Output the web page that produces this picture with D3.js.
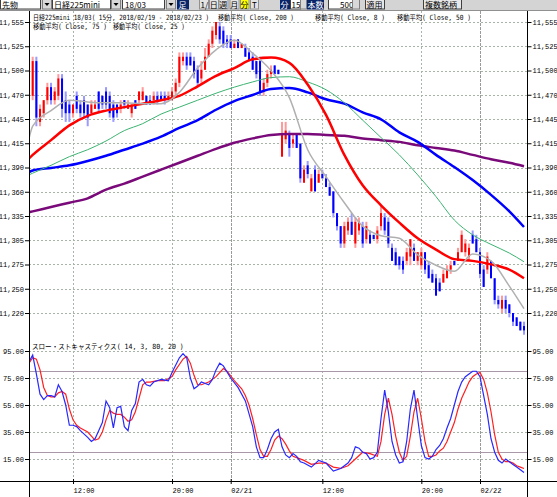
<!DOCTYPE html>
<html>
<head>
<meta charset="utf-8">
<script src="https://cdn.jsdelivr.net/npm/d3@7"></script>
<style>
  html, body { margin: 0; padding: 0; background: #fff; }
  svg { display: block; }
  .num { font-family: "Liberation Mono", "DejaVu Sans Mono", monospace; font-size: 7px; fill: #000; }
  .jp { font-family: "DejaVu Sans Mono", "Noto Sans CJK JP", monospace; font-size: 7.2px; fill: #000; }
  .tb { font-family: "Noto Sans CJK JP", sans-serif; font-size: 8px; }
</style>
</head>
<body>
<div id="chart"></div>
<script>
// ---- data ----
const priceLabels = ["11,555","11,525","11,500","11,470","11,445","11,415","11,390","11,360","11,335","11,305","11,275","11,250","11,220"];
const stochTicks = [95, 75, 55, 35, 15];
const stochLevels = [80, 20];
const timeTickIdx = [11, 38, 54, 79, 106, 122];
const timeLabels = ["12:00", "20:00", "02/21", "12:00", "20:00", "02/22"];
const dateTickIdx = [54, 122];

// 15-minute bars: [open, high, low, close]
const ohlc = [
  [11470,11515,11465,11510],[11510,11515,11435,11445],[11440,11460,11435,11455],[11450,11465,11445,11465],
  [11465,11485,11460,11480],[11480,11485,11460,11465],[11465,11480,11460,11475],[11470,11495,11465,11490],
  [11490,11495,11445,11455],[11465,11475,11440,11450],[11460,11465,11440,11450],[11450,11460,11445,11460],
  [11470,11475,11450,11455],[11460,11465,11445,11450],[11465,11470,11445,11450],[11460,11460,11435,11445],
  [11450,11465,11450,11460],[11455,11465,11455,11460],[11475,11475,11450,11455],[11470,11470,11455,11460],
  [11475,11480,11455,11460],[11470,11475,11445,11450],[11460,11465,11440,11445],[11460,11460,11445,11450],
  [11455,11465,11450,11460],[11465,11465,11455,11460],[11455,11465,11455,11460],[11450,11460,11445,11460],
  [11465,11465,11455,11455],[11465,11475,11460,11475],[11465,11480,11465,11475],[11470,11470,11460,11460],
  [11465,11470,11460,11460],[11465,11475,11460,11470],[11470,11475,11460,11465],[11470,11475,11465,11465],
  [11470,11475,11460,11465],[11465,11475,11465,11470],[11465,11480,11465,11475],[11475,11490,11470,11485],
  [11485,11520,11480,11515],[11510,11520,11505,11515],[11515,11520,11500,11505],[11515,11520,11505,11505],
  [11510,11515,11490,11495],[11500,11505,11480,11485],[11490,11510,11485,11500],[11500,11525,11500,11515],
  [11515,11535,11515,11530],[11530,11550,11525,11545],[11540,11555,11535,11555],[11550,11555,11530,11535],
  [11545,11550,11525,11530],[11535,11540,11525,11530],[11535,11540,11525,11525],[11525,11535,11525,11530],
  [11535,11535,11525,11525],[11525,11530,11525,11530],[11525,11530,11515,11515],[11520,11525,11510,11510],
  [11515,11520,11500,11500],[11510,11510,11490,11495],[11510,11515,11470,11475],[11475,11490,11470,11485],
  [11485,11500,11480,11495],[11495,11505,11490,11500],[11505,11505,11495,11495],[11500,11500,11495,11495],
  [11400,11440,11400,11425],[11420,11440,11415,11430],[11425,11430,11400,11410],[11415,11425,11410,11420],
  [11425,11425,11410,11410],[11415,11415,11370,11375],[11370,11390,11370,11385],[11390,11395,11375,11380],
  [11360,11380,11360,11375],[11385,11390,11360,11360],[11370,11385,11370,11380],[11380,11385,11375,11375],
  [11375,11380,11365,11365],[11365,11370,11355,11355],[11360,11360,11330,11335],[11335,11335,11315,11320],
  [11320,11320,11295,11300],[11300,11325,11295,11320],[11315,11330,11310,11325],[11325,11335,11310,11310],
  [11300,11330,11295,11325],[11315,11330,11310,11325],[11320,11325,11295,11300],[11305,11325,11300,11320],
  [11310,11315,11300,11300],[11310,11310,11305,11305],[11305,11320,11300,11315],[11320,11345,11315,11335],
  [11330,11335,11310,11315],[11325,11330,11295,11300],[11295,11300,11280,11280],[11290,11295,11275,11275],
  [11285,11285,11270,11275],[11280,11285,11265,11270],[11280,11295,11275,11290],[11285,11305,11275,11305],
  [11295,11300,11280,11280],[11280,11290,11275,11290],[11275,11295,11270,11290],[11290,11290,11265,11270],
  [11275,11280,11260,11260],[11265,11270,11255,11255],[11260,11265,11240,11240],[11255,11260,11245,11245],
  [11255,11270,11255,11265],[11260,11275,11260,11270],[11270,11280,11265,11275],[11280,11280,11275,11275],
  [11280,11295,11280,11290],[11290,11315,11290,11310],[11290,11305,11285,11300],[11285,11300,11280,11295],
  [11310,11315,11300,11300],[11305,11310,11290,11290],[11290,11295,11260,11265],[11270,11275,11250,11250],
  [11270,11290,11265,11285],[11280,11280,11260,11260],[11260,11260,11230,11235],[11235,11240,11225,11230],
  [11225,11240,11220,11235],[11235,11240,11220,11225],[11230,11230,11215,11220],[11220,11220,11205,11210],
  [11215,11215,11205,11205],[11210,11210,11200,11200],[11205,11210,11195,11200]
];

// moving averages sampled at these bar indices
const maIdx = [-1,0,5,10,15,20,25,30,35,40,45,50,55,60,65,70,75,80,85,90,95,100,105,110,115,120,125,130,134];
const ma8   = [11421,11435,11453,11465,11463,11462,11462,11461,11461,11474,11502,11523,11534,11519,11499,11468,11408,11377,11347,11320,11309,11306,11287,11275,11268,11288,11280,11251,11225];
const ma25  = [11398,11402,11419,11436,11447,11453,11457,11461,11465,11470,11481,11493,11502,11512,11514,11508,11483,11448,11402,11367,11344,11324,11306,11293,11282,11280,11276,11270,11260];
const ma50  = [11379,11381,11390,11400,11408,11418,11430,11438,11449,11457,11465,11473,11480,11486,11491,11492,11486,11477,11462,11442,11422,11402,11379,11354,11327,11310,11299,11289,11279];
const ma75  = [11382,11384,11387,11390,11395,11401,11408,11415,11423,11433,11442,11454,11464,11471,11478,11479,11474,11466,11461,11451,11443,11428,11417,11402,11388,11373,11356,11337,11319];
const ma200 = [11336,11337,11342,11347,11352,11362,11369,11377,11385,11393,11401,11409,11416,11421,11425,11426,11426,11425,11424,11421,11419,11417,11413,11410,11407,11402,11397,11393,11389];

// slow stochastics [bar index, value]
const stochK = [[-1,87],[0,92],[1,78],[2,63],[3,59],[4,62],[5,62],[6,61],[7,70],[8,65],[9,55],[10,40],[11,40],[12,39],[13,36],
  [15,31],[16,28],[17,30],[18,36],[19,42],[20,58],[21,53],[22,38],[23,53],[24,54],[25,39],[26,36],[27,51],[28,56],[29,72],
  [30,74],[31,70],[32,69],[33,72],[35,74],[37,73],[38,79],[40,90],[41,93],[42,90],[43,75],[44,67],[45,69],[46,72],[48,70],
  [49,74],[50,81],[51,86],[52,84],[54,75],[56,68],[58,58],[60,39],[61,24],[62,16],[63,16],[64,22],[65,30],[66,35],[67,37],
  [68,24],[69,18],[70,16],[71,19],[72,17],[73,13],[74,12],[76,9],[78,14],[80,12],[82,6],[84,8],[86,12],[87,16],[88,24],
  [89,23],[90,20],[91,19],[92,15],[93,16],[94,20],[95,45],[96,66],[97,50],[98,28],[99,18],[100,12],[101,13],[102,28],[103,52],
  [104,66],[105,45],[106,25],[107,16],[108,15],[109,17],[110,22],[111,25],[112,30],[113,38],[114,45],[115,55],[116,65],[117,72],
  [118,76],[119,78],[120,80],[121,80],[122,76],[123,62],[124,48],[125,30],[126,20],[127,14],[128,12],[129,15],[130,13],[131,11],
  [132,9],[133,7],[134,5]];
const stochD = [[-1,86],[0,90],[1,89],[2,81],[3,68],[4,62],[5,61],[6,61],[7,64],[8,65],[9,63],[10,52],[11,44],[12,40],[13,38],
  [15,35],[17,29],[18,30],[19,35],[20,44],[21,51],[22,49],[23,48],[24,48],[25,46],[26,43],[27,44],[28,50],[29,60],[30,70],
  [31,72],[32,72],[34,73],[36,73],[38,76],[39,81],[40,85],[41,89],[42,91],[43,86],[44,77],[45,70],[46,70],[48,72],[50,76],
  [52,82],[53,80],[55,73],[57,67],[58,62],[59,55],[60,45],[61,33],[62,22],[63,17],[64,17],[65,22],[66,29],[67,32],[68,30],
  [69,26],[70,21],[71,17],[72,16],[74,14],[76,11],[78,12],[80,12],[82,9],[84,8],[86,10],[88,15],[90,20],[92,19],[94,17],
  [95,28],[96,48],[97,60],[98,48],[99,32],[100,20],[101,14],[102,17],[103,32],[104,50],[105,60],[106,45],[107,28],[108,17],
  [109,17],[110,18],[111,21],[112,23],[113,28],[114,35],[115,42],[116,52],[117,60],[118,66],[119,72],[120,76],[121,78],[122,79],
  [123,74],[124,64],[125,50],[126,33],[127,20],[128,15],[129,13],[130,13],[131,12],[132,10],[133,9],[134,8]];

const legendRow1 = ["日経225mini 18/03( 15分, 2018/02/19 - 2018/02/23 )", "移動平均( Close, 200 )", "移動平均( Close, 8 )", "移動平均( Close, 50 )"];
const legendRow2 = ["移動平均( Close, 75 )", "移動平均( Close, 25 )"];
const stochTitle = "スロー・ストキャスティクス( 14, 3, 80, 20 )";

// ---- layout ----
const W = 557, H = 497;
const plotL = 29, plotR = 527.5, plotTop = 11, axisY = 481;

const x = d3.scaleLinear().domain([0, ohlc.length - 1]).range([32.7, 524]);
const yP = d3.scaleLinear().domain([11220, 11555]).range([313, 22]);
const yS = d3.scaleLinear().domain([15, 95]).range([459, 351]);
const priceTicks = priceLabels.map((s, i) => 11555 - i * (11555 - 11220) / (priceLabels.length - 1));

const svg = d3.select('#chart').append('svg')
  .attr('width', W).attr('height', H);

const defs = svg.append('defs');
defs.append('clipPath').attr('id', 'clipMain').append('rect')
  .attr('x', plotL).attr('y', plotTop).attr('width', plotR - plotL).attr('height', 325);
defs.append('clipPath').attr('id', 'clipStoch').append('rect')
  .attr('x', plotL).attr('y', 337).attr('width', plotR - plotL).attr('height', axisY - 337);

// Gridlines
const grid = svg.append('g').attr('stroke', '#a9b4a9').attr('stroke-dasharray', '2,2');
grid.selectAll('line.hp').data(priceTicks).join('line')
  .attr('x1', plotL).attr('x2', plotR)
  .attr('y1', d => Math.round(yP(d)) + 0.5).attr('y2', d => Math.round(yP(d)) + 0.5);
grid.selectAll('line.hs').data(stochTicks).join('line')
  .attr('x1', plotL).attr('x2', plotR)
  .attr('y1', d => Math.round(yS(d)) + 0.5).attr('y2', d => Math.round(yS(d)) + 0.5);
grid.selectAll('line.v').data(timeTickIdx).join('line')
  .attr('x1', d => Math.round(x(d)) + 0.5).attr('x2', d => Math.round(x(d)) + 0.5)
  .attr('y1', plotTop).attr('y2', axisY)
  .attr('stroke', d => dateTickIdx.includes(d) ? '#9a9a9a' : '#a9b4a9')
  .attr('stroke-dasharray', d => dateTickIdx.includes(d) ? '3,1' : '2,2');

// Stochastic 80 / 20 levels
svg.append('g').selectAll('line').data(stochLevels).join('line')
  .attr('x1', plotL).attr('x2', plotR)
  .attr('y1', d => Math.round(yS(d)) + 0.5).attr('y2', d => Math.round(yS(d)) + 0.5)
  .attr('stroke', '#a898a8').attr('stroke-width', 1);

// Candles
const main = svg.append('g').attr('clip-path', 'url(#clipMain)');
const up = d => d[3] >= d[0];
main.append('g').selectAll('rect').data(ohlc).join('rect')
  .attr('x', (d, i) => x(i) - 1).attr('width', 2)
  .attr('y', d => yP(d[1]))
  .attr('height', d => Math.max(1, yP(d[2]) - yP(d[1])))
  .attr('fill', d => up(d) ? '#ff9a9a' : '#9a9aff');
main.append('g').selectAll('rect').data(ohlc).join('rect')
  .attr('x', (d, i) => x(i) - 1).attr('width', 2)
  .attr('y', d => yP(Math.max(d[0], d[3])))
  .attr('height', d => Math.max(1.5, Math.abs(yP(d[0]) - yP(d[3]))))
  .attr('fill', d => up(d) ? '#ff0000' : '#0000ff');

// Moving averages
const maLine = d3.line().x(d => x(d[0])).y(d => yP(d[1])).curve(d3.curveMonotoneX);
const maSeries = [
  { v: ma200, color: '#7a0a7a', w: 2.5 },
  { v: ma75, color: '#0000ff', w: 2.5 },
  { v: ma50, color: '#3cb371', w: 1 },
  { v: ma25, color: '#ff0000', w: 2.5 },
  { v: ma8, color: '#b0b0b0', w: 1.5 }
];
maSeries.forEach(s => {
  main.append('path')
    .datum(maIdx.map((k, j) => [k, s.v[j]]))
    .attr('fill', 'none').attr('stroke', s.color).attr('stroke-width', s.w)
    .attr('stroke-linejoin', 'round')
    .attr('d', maLine);
});

// Stochastics
const stoch = svg.append('g').attr('clip-path', 'url(#clipStoch)');
const stLine = d3.line().x(d => x(d[0])).y(d => yS(d[1]));
stoch.append('path').datum(stochD)
  .attr('fill', 'none').attr('stroke', '#ff2020').attr('stroke-width', 1.2).attr('d', stLine);
stoch.append('path').datum(stochK)
  .attr('fill', 'none').attr('stroke', '#2828ff').attr('stroke-width', 1.2).attr('d', stLine);

// Axes
function styleAxis(g) {
  g.select('.domain').remove();
  g.selectAll('line').attr('stroke', '#000');
  g.selectAll('text').attr('class', 'num').attr('font-size', null).attr('font-family', null);
}
svg.append('g').attr('transform', `translate(${plotL},0)`)
  .call(d3.axisLeft(yP).tickValues(priceTicks).tickFormat((d, i) => priceLabels[i]).tickSize(4).tickPadding(1))
  .call(styleAxis);
svg.append('g').attr('transform', `translate(${plotR},0)`)
  .call(d3.axisRight(yP).tickValues(priceTicks).tickFormat((d, i) => priceLabels[i]).tickSize(4).tickPadding(1))
  .call(styleAxis);
svg.append('g').attr('transform', `translate(${plotL},0)`)
  .call(d3.axisLeft(yS).tickValues(stochTicks).tickFormat(d3.format('.2f')).tickSize(4).tickPadding(1))
  .call(styleAxis);
svg.append('g').attr('transform', `translate(${plotR},0)`)
  .call(d3.axisRight(yS).tickValues(stochTicks).tickFormat(d3.format('.2f')).tickSize(4).tickPadding(1))
  .call(styleAxis);
const xAxis = svg.append('g').attr('transform', `translate(0,${axisY - 2})`)
  .call(d3.axisBottom(x).tickValues(timeTickIdx).tickFormat((d, i) => timeLabels[i]).tickSize(5))
  .call(styleAxis);
xAxis.selectAll('text').attr('text-anchor', 'start').attr('x', 0).attr('y', 9).attr('dy', '0.71em');

// Frame lines
svg.append('line').attr('x1', 0).attr('x2', W).attr('y1', axisY + 0.5).attr('y2', axisY + 0.5).attr('stroke', '#000');
svg.append('line').attr('x1', plotL + 0.5).attr('x2', plotL + 0.5).attr('y1', plotTop).attr('y2', H).attr('stroke', '#000');
svg.append('line').attr('x1', plotR).attr('x2', plotR).attr('y1', plotTop).attr('y2', H).attr('stroke', '#000');

// Legend texts, squeezed horizontally to the reference widths
function fitText(t, x0, y0, w) {
  const el = svg.append('text').attr('class', 'jp').text(t);
  const natural = el.node().getComputedTextLength();
  el.attr('transform', `translate(${x0},${y0}) scale(${w / natural},1)`);
}
const row1X = [33, 218, 315, 397], row1W = [176, 76, 70, 74];
legendRow1.forEach((t, i) => fitText(t, row1X[i], 19.5, row1W[i]));
const row2X = [33, 113], row2W = [74, 72];
legendRow2.forEach((t, i) => fitText(t, row2X[i], 28.5, row2W[i]));
fitText(stochTitle, 32, 348.5, 152);

// Toolbar
const tb = svg.append('g');
tb.append('rect').attr('x', 0).attr('y', 0).attr('width', W).attr('height', plotTop).attr('fill', '#d4d4d4');
tb.append('line').attr('x1', 0).attr('x2', W).attr('y1', plotTop - 0.5).attr('y2', plotTop - 0.5).attr('stroke', '#909090');
function box(x0, x1, fill, stroke) {
  tb.append('rect').attr('x', x0 + 0.5).attr('y', -2).attr('width', x1 - x0).attr('height', 11)
    .attr('fill', fill).attr('stroke', stroke);
}
function label(x0, t, color, size) {
  tb.append('text').attr('class', 'tb').attr('x', x0).attr('y', 7.5)
    .attr('font-size', size || 8).style('fill', color || '#000').text(t);
}
function arrow(x0) {
  box(x0, x0 + 9, '#d8d8d8', '#808080');
  tb.append('path').attr('d', `M${x0 + 2.5},3 L${x0 + 7.5},3 L${x0 + 5},6 Z`).attr('fill', '#000');
}
box(0, 40, '#fff', '#404040'); label(2, '先物');
arrow(42);
box(52, 110, '#fff', '#404040'); label(54, '日経225mini');
arrow(111);
box(122, 164, '#fff', '#404040'); label(125, '18/03');
arrow(166);
box(177, 188, '#0a246a', '#0a246a'); label(178.5, '足', '#fff');
box(199, 208, '#e4e4e4', '#909090'); label(200.5, '1/', '#000', 7);
[[209, '日'], [218.5, '週'], [229.5, '月']].forEach(([p, t]) => { box(p, p + 9, '#e4e4e4', '#909090'); label(p + 0.8, t); });
box(240, 248.5, '#ffff00', '#909090'); label(240.5, '分');
box(250, 258, '#e4e4e4', '#909090'); label(252, 'T');
box(280, 289, '#0a246a', '#0a246a'); label(280.5, '分', '#fff');
box(290, 300, '#fff', '#404040'); label(291.5, '15', '#000', 7);
box(300, 306, '#d8d8d8', '#808080');
box(307, 323, '#0a246a', '#0a246a'); label(307.5, '本数', '#fff');
box(328, 352, '#fff', '#404040'); label(340, '500', '#000', 7);
box(352, 359, '#d8d8d8', '#808080');
box(365, 384, '#e8e8e8', '#404040'); label(366.5, '適用');
box(423, 461, '#e8e8e8', '#404040'); label(425, '複数銘柄');
</script>
</body>
</html>
